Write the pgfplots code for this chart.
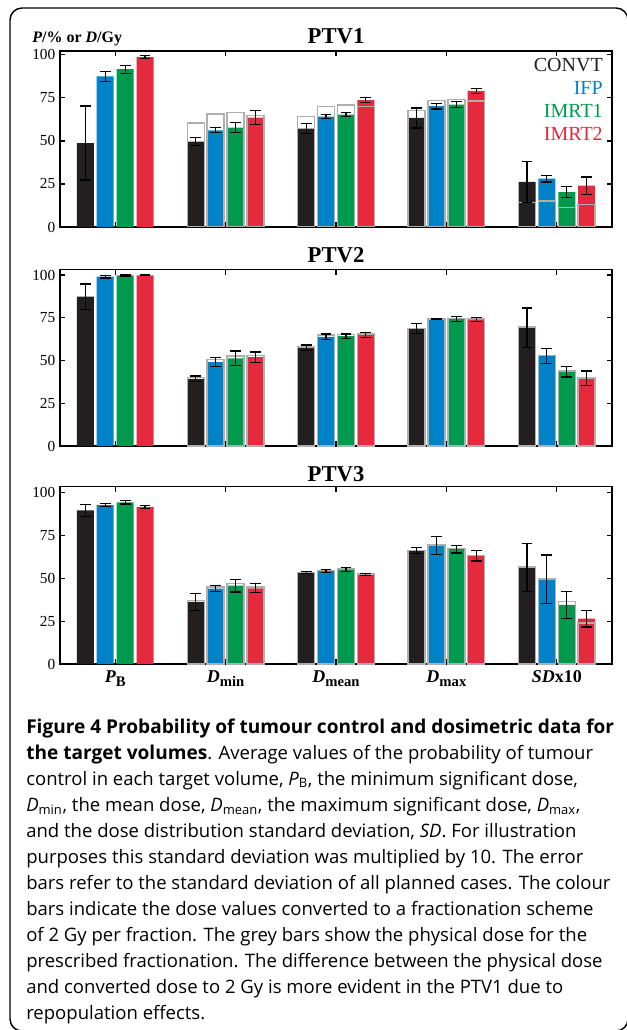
\documentclass[border=0pt]{standalone}
\usepackage{fontspec}
\setmainfont{Liberation Serif}
\newfontfamily\capfont{Open Sans}
\usepackage{pgfplots}
\usepackage{pgfplotstable}
\pgfplotsset{compat=1.18}

\definecolor{cconv}{RGB}{35,31,32}
\definecolor{cifp}{RGB}{0,130,200}
\definecolor{cima}{RGB}{0,154,78}
\definecolor{cimb}{RGB}{228,42,60}
\definecolor{cgrey}{RGB}{175,175,175}

\newcommand\sub[1]{\raisebox{-0.6ex}{\fontsize{11}{11}\selectfont\bfseries #1}}

% columns: x, CONVT (c, error, grey), IFP (i), IMRT1 (a), IMRT2 (r)
\pgfplotstableread{
x c    ce   cg   i    ie   ig   a    ae   ag   r    re   rg
1 48.8 21.5 nan  87.6 3.0  nan  91.7 2.3  nan  98.7 0.8  nan
2 49.6 2.3  60.5 56.2 1.4  65.7 57.8 2.9  66.7 63.6 4.2  64.9
3 57.2 2.9  64.4 64.2 1.0  70.2 65.3 1.2  70.9 73.7 1.5  70.2
4 63.4 5.8  67.8 70.2 1.6  73.7 71.2 1.8  74.1 79.1 1.3  73.3
5 26.2 11.8 14.2 28.1 2.0  15.1 20.2 3.2  11.3 24.1 5.0  13.2
}\ptvone
\pgfplotstableread{
x c    ce   cg   i    ie   ig   a    ae   ag   r    re   rg
1 87.3 7.4  nan  99.0 0.8  nan  99.7 0.3  nan  99.8 0.2  nan
2 39.2 1.7  40.0 49.1 2.8  50.5 51.3 4.3  52.6 52.0 3.0  52.8
3 57.5 1.5  58.0 63.8 1.7  65.0 64.2 1.3  65.3 65.0 1.6  65.5
4 68.6 3.0  68.8 74.3 0.3  74.3 74.2 1.6  74.5 74.0 1.2  74.5
5 69.2 11.5 69.5 52.6 4.3  53.0 43.5 3.2  43.8 39.6 4.2  39.8
}\ptvtwo
\pgfplotstableread{
x c    ce   cg   i    ie   ig   a    ae   ag   r    re   rg
1 89.7 3.5  nan  92.8 1.0  nan  94.4 1.0  nan  91.7 1.0  nan
2 36.2 5.0  37.2 44.0 1.6  44.9 45.7 3.7  46.9 44.2 2.6  44.9
3 53.3 0.7  53.6 54.3 1.0  54.5 55.2 1.2  55.8 52.3 0.6  52.5
4 66.1 1.7  66.3 69.3 5.3  69.5 67.0 2.2  67.3 63.1 3.0  63.5
5 56.4 14.0 56.6 49.4 14.2 49.6 34.5 8.0  36.3 26.5 4.9  24.0
}\ptvthree

\pgfplotsset{
  ptv/.style={
    scale only axis, width=414pt,
    xmin=0.5, xmax=5.5, ymin=0,
    xtick={1,2,3,4,5}, ytick={0,25,50,75,100},
    tick align=inside, major tick length=4pt,
    axis line style={line width=1pt, black},
    every tick/.style={black, line width=0.8pt},
    yticklabel style={font=\fontsize{11.5}{12}\selectfont, /pgf/number format/assume math mode=true},
    xticklabels={},
  },
  cbar/.style 2 args={ybar, bar width=12.75pt, bar shift=#1, fill=#2, draw=none},
  gbar/.style={ybar, bar width=12.75pt, bar shift=#1, fill=none, draw=cgrey, line width=1pt},
  ebar/.style={draw=none, mark=none, forget plot,
    error bars/.cd, y dir=both, y explicit,
    error mark=-,
    error bar style={draw=black, solid, line width=0.9pt},
    error mark options={rotate=90, draw=black, solid, mark size=4pt, line width=0.9pt}},
}

\newcommand\panel[1]{%
  \addplot[cbar={-22.35pt}{cconv}] table[x=x, y=c]{#1};
  \addplot[cbar={-7.5pt}{cifp}] table[x=x, y=i]{#1};
  \addplot[cbar={7.5pt}{cima}] table[x=x, y=a]{#1};
  \addplot[cbar={22.35pt}{cimb}] table[x=x, y=r]{#1};
  \addplot[gbar={-22.35pt}] table[x=x, y=cg]{#1};
  \addplot[gbar={-7.5pt}] table[x=x, y=ig]{#1};
  \addplot[gbar={7.5pt}] table[x=x, y=ag]{#1};
  \addplot[gbar={22.35pt}] table[x=x, y=rg]{#1};
  \addplot[ebar] table[x expr=\thisrow{x}-0.270, y=c, y error=ce]{#1};
  \addplot[ebar] table[x expr=\thisrow{x}-0.0906, y=i, y error=ie]{#1};
  \addplot[ebar] table[x expr=\thisrow{x}+0.0906, y=a, y error=ae]{#1};
  \addplot[ebar] table[x expr=\thisrow{x}+0.270, y=r, y error=re]{#1};
}

\begin{document}
\begin{tikzpicture}
\begin{scope}[x=0.75pt, y=-0.75pt]
  \path[use as bounding box] (0,0) rectangle (627,1030);
  \draw[line width=1.1pt, rounded corners=9pt] (10,8) rectangle (628,1031);
  % titles
  \node[anchor=base, inner sep=0pt, font=\bfseries\fontsize{17}{18}\selectfont] at (336,44) {PTV1};
  \node[anchor=base, inner sep=0pt, font=\bfseries\fontsize{17}{18}\selectfont] at (336,262.7) {PTV2};
  \node[anchor=base, inner sep=0pt, font=\bfseries\fontsize{17}{18}\selectfont] at (336,481.7) {PTV3};
  % y label
  \node[anchor=base west, inner sep=0pt, font=\bfseries\fontsize{12}{13}\selectfont] at (32,43) {\textit{P}/\% or \textit{D}/Gy};
  % legend
  \node[anchor=base east, inner sep=0pt, font=\fontsize{15}{16}\selectfont, text=cconv] at (603,71.7) {CONVT};
  \node[anchor=base east, inner sep=0pt, font=\fontsize{15}{16}\selectfont, text=cifp] at (603,94.3) {IFP};
  \node[anchor=base east, inner sep=0pt, font=\fontsize{15}{16}\selectfont, text=cima] at (603,117.7) {IMRT1};
  \node[anchor=base east, inner sep=0pt, font=\fontsize{15}{16}\selectfont, text=cimb] at (603,140.7) {IMRT2};
  % caption
  \tikzset{capline/.style={anchor=base west, inner sep=0pt, font=\capfont\fontsize{13.9}{16}\selectfont}}
  \newcommand\cb[1]{{\fontsize{14.3}{16}\selectfont\bfseries #1}}
  \node[capline] at (26,733) {\cb{Figure 4 Probability of tumour control and dosimetric data for}};
  \node[capline] at (26,759.05) {\cb{the target volumes}. Average values of the probability of tumour};
  \node[capline] at (26,785.1) {control in each target volume, \textit{P}\textsubscript{B}, the minimum significant dose,};
  \node[capline] at (26,811.15) {\textit{D}\textsubscript{min}, the mean dose, \textit{D}\textsubscript{mean}, the maximum significant dose, \textit{D}\textsubscript{max},};
  \node[capline] at (26,837.2) {and the dose distribution standard deviation, \textit{SD}. For illustration};
  \node[capline] at (26,863.25) {purposes this standard deviation was multiplied by 10. The error};
  \node[capline] at (26,889.3) {bars refer to the standard deviation of all planned cases. The colour};
  \node[capline] at (26,915.35) {bars indicate the dose values converted to a fractionation scheme};
  \node[capline] at (26,941.4) {of 2 Gy per fraction. The grey bars show the physical dose for the};
  \node[capline] at (26,967.45) {prescribed fractionation. The difference between the physical dose};
  \node[capline] at (26,993.5) {and converted dose to 2 Gy is more evident in the PTV1 due to};
  \node[capline] at (26,1019.55) {repopulation effects.};
\end{scope}

\begin{axis}[ptv, at={(45pt,-170.25pt)}, anchor=south west, height=132pt, ymax=102.3]
  \panel{\ptvone}
\end{axis}

\begin{axis}[ptv, at={(45pt,-334.5pt)}, anchor=south west, height=132.5pt, ymax=103.3]
  \panel{\ptvtwo}
\end{axis}

\begin{axis}[ptv, at={(45pt,-498pt)}, anchor=south west, height=133pt, ymax=103.5,
  xticklabels={{\textbf{\textit{P}}\sub{B}}, {\textbf{\textit{D}}\sub{min}}, {\textbf{\textit{D}}\sub{mean}}, {\textbf{\textit{D}}\sub{max}}, {\textbf{\textit{SD}x10}}},
  xticklabel style={font=\bfseries\fontsize{13.5}{14}\selectfont, anchor=base, yshift=-13.5pt}]
  \panel{\ptvthree}
\end{axis}
\end{tikzpicture}
\end{document}
